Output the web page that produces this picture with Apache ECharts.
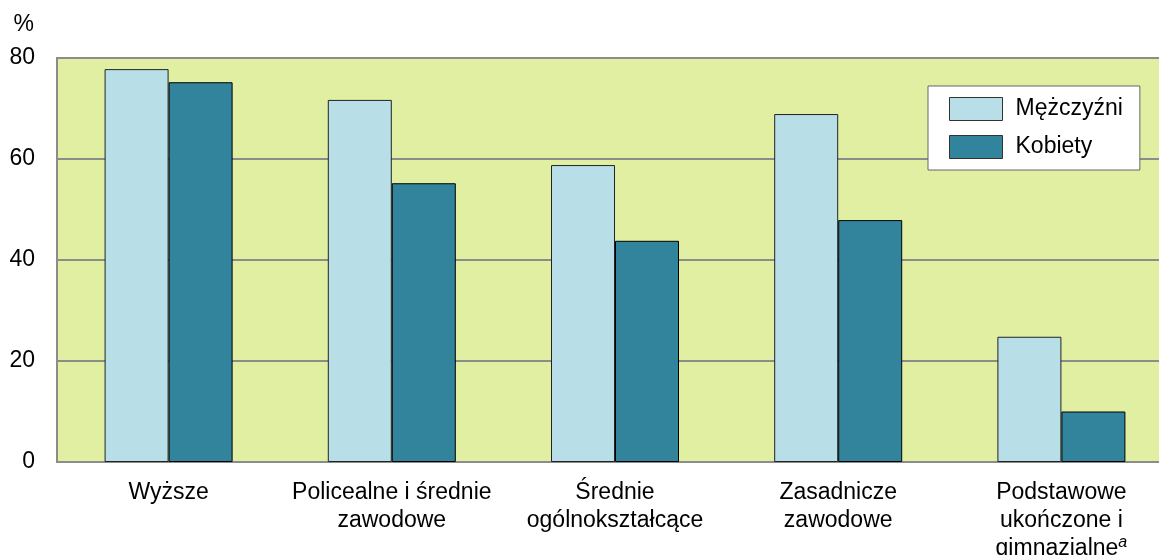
<!DOCTYPE html>
<html><head><meta charset="utf-8">
<script src="https://cdn.jsdelivr.net/npm/echarts@6/dist/echarts.min.js"></script>
<style>html,body{margin:0;padding:0;background:#fff;overflow:hidden}#c{width:1159px;height:555px}</style>
</head><body><div id="c"></div>
<script>
const categories = ['Wyższe', 'Policealne i średnie\nzawodowe', 'Średnie\nogólnokształcące', 'Zasadnicze\nzawodowe', 'Podstawowe\nukończone i\ngimnazjalne{sup|a}'];
const men = [77.8, 71.7, 58.8, 68.9, 24.8];
const women = [75.2, 55.2, 43.8, 47.9, 10.0];
const yTicks = [0, 20, 40, 60, 80];
const seriesNames = ['Mężczyźni', 'Kobiety'];

const chart = echarts.init(document.getElementById('c'));
const font = 'Liberation Sans, Arial, sans-serif';
chart.setOption({
  animation: false,
  grid: { left: 57, top: 58, width: 1116, height: 404, containLabel: false, outerBoundsMode: 'none',
          show: true, backgroundColor: '#E0EFA2', borderColor: '#8c8c8c', borderWidth: 2 },
  legend: {
    left: 928, top: 86, orient: 'vertical', itemWidth: 53, itemHeight: 23, itemGap: 14,
    padding: [11, 17, 11, 21], icon: 'rect',
    backgroundColor: '#fff', borderColor: '#666', borderWidth: 1,
    textStyle: { fontFamily: font, fontSize: 23, color: '#000', padding: [0, 0, 0, 8] },
    itemStyle: { borderColor: '#333', borderWidth: 1 },
    data: seriesNames
  },
  xAxis: {
    type: 'category', data: categories,
    axisLine: { show: true, lineStyle: { color: '#8c8c8c', width: 2 } },
    axisTick: { show: false },
    axisLabel: { fontFamily: font, fontSize: 23, color: '#000', margin: 17, lineHeight: 28, interval: 0,
      rich: { sup: { fontSize: 16, fontStyle: 'italic', verticalAlign: 'top', lineHeight: 28, padding: [0,0,14,0], fontFamily: font } } }
  },
  yAxis: {
    type: 'value', min: 0, max: 80, interval: 20,
    name: '%', nameLocation: 'end', nameGap: 22,
    nameTextStyle: { fontFamily: font, fontSize: 23, color: '#000', align: 'right', padding: [0, 23, 0, 0] },
    axisLine: { show: true, lineStyle: { color: '#8c8c8c', width: 2 } },
    axisTick: { show: false },
    axisLabel: { fontFamily: font, fontSize: 23, color: '#000', margin: 22,
      formatter: v => yTicks.includes(v) ? String(v) : '' },
    splitLine: { lineStyle: { color: '#8c8c8c', width: 2 } }
  },
  series: [
    { name: seriesNames[0], type: 'bar', data: men, barWidth: 64, barGap: '0%',
      itemStyle: { color: '#B8DEE8', borderColor: '#222', borderWidth: 1 } },
    { name: seriesNames[1], type: 'bar', data: women, barWidth: 64, barGap: '0%',
      itemStyle: { color: '#31849B', borderColor: '#000', borderWidth: 1 } }
  ]
});
</script></body></html>
